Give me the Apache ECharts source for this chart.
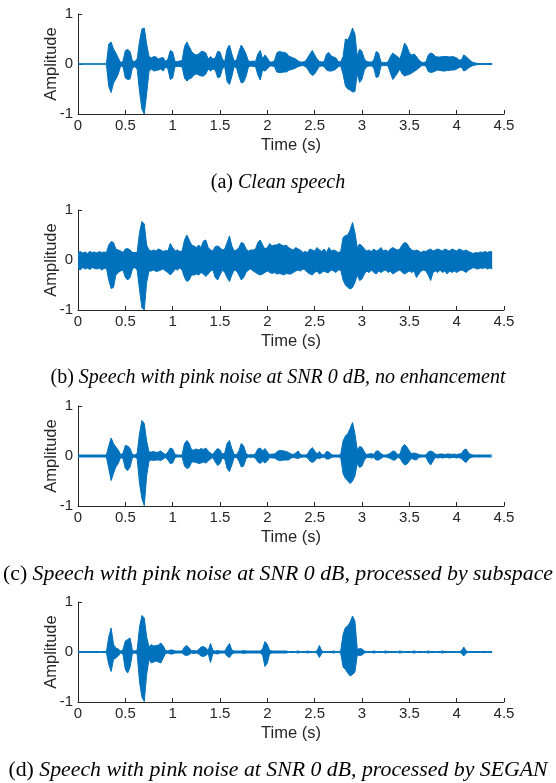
<!DOCTYPE html>
<html>
<head>
<meta charset="utf-8">
<script src="https://cdn.jsdelivr.net/npm/echarts@6/dist/echarts.min.js"></script>
<style>
  html, body { margin: 0; padding: 0; background: #fff; }
  #speechWaveforms { width: 556px; height: 783px; }
</style>
</head>
<body>
<div id="speechWaveforms"></div>
<script>
// envelope of each waveform, one sample every 0.025 s from 0 s
var STEP = 0.025

var captions = [
  ['(a)', 'Clean speech'],
  ['(b)', 'Speech with pink noise at SNR 0 dB, no enhancement'],
  ['(c)', 'Speech with pink noise at SNR 0 dB, processed by subspace'],
  ['(d)', 'Speech with pink noise at SNR 0 dB, processed by SEGAN']
]
var xTicks = [0, 4.5, 0.5]
var yTicks = [-1, 1, 1]

// (a) clean speech
var cleanUpper = [
  .005,.005,.005,.005,.005,.005,.005,.005,.005,.005,.005,.005,.005,.40,.44,.30,.22,.12,.03,.05,
  .27,.29,.25,.06,.05,.10,.45,.70,.72,.40,.15,.12,.15,.14,.10,.12,.13,.05,.10,.27,
  .24,.05,.05,.06,.07,.35,.44,.35,.25,.20,.18,.20,.25,.25,.22,.10,.15,.10,.12,.25,
  .24,.10,.05,.30,.38,.20,.06,.08,.25,.38,.30,.20,.06,.05,.06,.05,.20,.27,.10,.18,
  .12,.04,.04,.06,.22,.25,.24,.23,.22,.16,.14,.12,.10,.06,.04,.04,.05,.12,.20,.27,
  .18,.10,.05,.04,.05,.20,.23,.16,.14,.12,.05,.04,.15,.50,.48,.58,.72,.60,.15,.30,
  .25,.10,.05,.04,.04,.08,.25,.22,.04,.03,.03,.04,.15,.22,.18,.15,.10,.25,.42,.35,
  .22,.18,.20,.15,.08,.04,.03,.04,.18,.22,.20,.15,.14,.14,.15,.15,.15,.14,.15,.14,
  .12,.08,.08,.18,.15,.10,.06,.03,.02,.01,.01,.01,.01,.01,.01,.01
]
var cleanLower = [
  -.005,-.005,-.005,-.005,-.005,-.005,-.005,-.005,-.005,-.005,-.005,-.005,-.005,-.45,-.57,-.38,-.30,-.20,-.04,-.05,
  -.28,-.31,-.30,-.08,-.05,-.10,-.55,-.90,-1.0,-.60,-.15,-.10,-.14,-.13,-.12,-.10,-.14,-.06,-.10,-.31,
  -.28,-.05,-.05,-.05,-.06,-.28,-.34,-.30,-.28,-.22,-.20,-.22,-.24,-.24,-.20,-.10,-.14,-.10,-.12,-.27,
  -.26,-.10,-.05,-.35,-.41,-.25,-.05,-.08,-.25,-.38,-.36,-.25,-.06,-.04,-.05,-.05,-.22,-.32,-.12,-.14,
  -.10,-.04,-.04,-.05,-.16,-.17,-.17,-.16,-.16,-.13,-.11,-.10,-.08,-.05,-.04,-.03,-.05,-.10,-.18,-.23,
  -.20,-.12,-.05,-.04,-.05,-.12,-.14,-.14,-.13,-.10,-.05,-.04,-.20,-.44,-.50,-.52,-.56,-.55,-.20,-.37,
  -.30,-.12,-.05,-.04,-.04,-.08,-.27,-.25,-.04,-.03,-.03,-.04,-.18,-.31,-.25,-.18,-.10,-.20,-.24,-.22,
  -.21,-.18,-.15,-.12,-.08,-.04,-.03,-.04,-.15,-.17,-.16,-.14,-.12,-.13,-.14,-.14,-.13,-.13,-.12,-.12,
  -.10,-.07,-.06,-.14,-.12,-.08,-.05,-.03,-.02,-.01,-.01,-.01,-.01,-.01,-.01,-.01
]

// (b) noisy, no enhancement
var noisyUpper = [
  .15,.17,.14,.16,.13,.17,.15,.16,.14,.17,.15,.16,.15,.30,.37,.35,.22,.20,.18,.15,
  .22,.23,.20,.15,.15,.15,.55,.77,.72,.30,.20,.18,.20,.18,.22,.20,.17,.19,.18,.33,
  .25,.18,.20,.17,.18,.40,.50,.40,.30,.28,.25,.30,.25,.38,.40,.25,.20,.18,.27,.28,
  .25,.20,.22,.35,.48,.28,.18,.20,.25,.35,.33,.22,.18,.20,.20,.22,.35,.40,.30,.22,
  .25,.33,.28,.30,.30,.33,.30,.28,.30,.25,.22,.20,.25,.22,.20,.15,.17,.15,.22,.20,
  .18,.25,.20,.17,.22,.15,.25,.18,.20,.18,.15,.17,.45,.49,.50,.60,.75,.55,.25,.32,
  .28,.22,.18,.20,.17,.22,.18,.20,.25,.18,.20,.17,.22,.25,.22,.20,.22,.30,.35,.33,
  .25,.20,.18,.20,.18,.15,.18,.17,.20,.22,.18,.20,.22,.20,.18,.22,.20,.18,.22,.20,
  .18,.22,.20,.18,.20,.17,.15,.13,.15,.14,.16,.15,.17,.15,.17,.16
]
var noisyLower = [
  -.17,-.20,-.15,-.18,-.16,-.19,-.15,-.17,-.18,-.16,-.20,-.17,-.16,-.40,-.57,-.55,-.30,-.25,-.22,-.20,
  -.35,-.40,-.35,-.18,-.15,-.20,-.60,-.95,-1.0,-.45,-.22,-.22,-.20,-.23,-.22,-.20,-.18,-.22,-.25,-.30,
  -.25,-.18,-.20,-.16,-.20,-.35,-.43,-.40,-.30,-.30,-.28,-.30,-.25,-.28,-.33,-.28,-.22,-.20,-.35,-.40,
  -.30,-.20,-.25,-.35,-.43,-.30,-.20,-.22,-.30,-.40,-.35,-.25,-.20,-.18,-.22,-.25,-.28,-.30,-.28,-.25,
  -.22,-.25,-.27,-.25,-.28,-.27,-.28,-.30,-.27,-.28,-.28,-.25,-.22,-.20,-.22,-.18,-.20,-.25,-.28,-.30,
  -.25,-.22,-.28,-.25,-.22,-.25,-.25,-.20,-.22,-.25,-.20,-.20,-.40,-.50,-.55,-.58,-.55,-.45,-.30,-.41,
  -.38,-.28,-.22,-.25,-.20,-.25,-.28,-.22,-.25,-.22,-.20,-.25,-.22,-.28,-.25,-.22,-.20,-.25,-.28,-.25,
  -.22,-.25,-.22,-.35,-.28,-.22,-.20,-.22,-.30,-.41,-.25,-.22,-.25,-.20,-.25,-.22,-.28,-.22,-.25,-.22,
  -.25,-.22,-.20,-.22,-.25,-.20,-.18,-.15,-.17,-.18,-.16,-.17,-.15,-.18,-.16,-.18
]

// (c) processed by subspace
var subspaceUpper = [
  .02,.02,.02,.02,.02,.02,.02,.02,.02,.02,.02,.02,.02,.20,.36,.25,.18,.12,.03,.05,
  .21,.20,.15,.03,.02,.05,.45,.71,.65,.30,.08,.08,.09,.07,.08,.10,.06,.03,.08,.16,
  .14,.03,.02,.02,.02,.25,.31,.25,.12,.12,.14,.12,.15,.13,.16,.10,.06,.03,.10,.15,
  .12,.04,.06,.25,.31,.15,.03,.03,.10,.25,.20,.05,.02,.03,.02,.05,.14,.16,.10,.15,
  .08,.03,.04,.04,.08,.11,.11,.10,.09,.07,.04,.03,.06,.10,.03,.02,.02,.04,.12,.17,
  .10,.04,.09,.03,.02,.09,.08,.03,.02,.02,.02,.03,.30,.40,.45,.55,.67,.45,.12,.19,
  .17,.08,.03,.04,.05,.03,.10,.10,.05,.02,.02,.03,.06,.10,.09,.03,.04,.18,.23,.18,
  .10,.05,.06,.05,.03,.02,.02,.02,.08,.10,.08,.04,.03,.04,.04,.03,.04,.04,.03,.04,
  .03,.04,.05,.12,.14,.06,.03,.02,.02,.02,.02,.02,.02,.02,.02,.02
]
var subspaceLower = [
  -.02,-.02,-.02,-.02,-.02,-.02,-.02,-.02,-.02,-.02,-.02,-.02,-.02,-.25,-.49,-.35,-.22,-.15,-.03,-.05,
  -.25,-.29,-.22,-.03,-.02,-.05,-.55,-.85,-.99,-.40,-.10,-.08,-.09,-.08,-.08,-.09,-.06,-.03,-.08,-.15,
  -.14,-.03,-.02,-.02,-.02,-.20,-.25,-.23,-.12,-.12,-.13,-.15,-.14,-.12,-.14,-.10,-.06,-.03,-.12,-.19,
  -.15,-.04,-.06,-.25,-.31,-.18,-.03,-.03,-.10,-.22,-.20,-.05,-.02,-.03,-.02,-.05,-.12,-.15,-.10,-.14,
  -.10,-.03,-.04,-.04,-.07,-.09,-.09,-.08,-.08,-.08,-.04,-.03,-.04,-.05,-.03,-.02,-.02,-.04,-.10,-.13,
  -.10,-.04,-.05,-.03,-.02,-.06,-.06,-.03,-.02,-.02,-.02,-.03,-.35,-.45,-.50,-.55,-.50,-.40,-.15,-.23,
  -.20,-.08,-.03,-.03,-.04,-.03,-.08,-.08,-.05,-.02,-.02,-.03,-.05,-.08,-.08,-.03,-.04,-.12,-.18,-.16,
  -.10,-.05,-.07,-.08,-.03,-.02,-.02,-.02,-.12,-.18,-.10,-.03,-.04,-.03,-.04,-.03,-.03,-.04,-.03,-.03,
  -.04,-.03,-.05,-.10,-.13,-.06,-.03,-.02,-.02,-.02,-.02,-.02,-.02,-.02,-.02,-.02
]

// (d) processed by SEGAN
var seganUpper = [
  .01,.01,.01,.01,.01,.01,.01,.01,.01,.01,.01,.01,.01,.30,.48,.15,.08,.06,.02,.04,
  .22,.25,.28,.03,.02,.04,.50,.73,.68,.30,.10,.15,.12,.13,.14,.18,.12,.03,.02,.04,
  .04,.02,.02,.02,.02,.10,.13,.08,.02,.03,.02,.05,.10,.11,.08,.03,.17,.03,.02,.03,
  .02,.02,.02,.10,.17,.04,.02,.02,.02,.02,.03,.02,.02,.02,.02,.02,.02,.02,.06,.21,
  .15,.03,.02,.02,.02,.02,.02,.02,.02,.01,.01,.01,.01,.02,.01,.01,.01,.02,.01,.01,
  .01,.02,.13,.02,.01,.01,.01,.01,.02,.01,.01,.02,.35,.49,.52,.60,.72,.62,.05,.07,
  .06,.02,.01,.01,.01,.02,.01,.01,.01,.01,.02,.01,.01,.01,.01,.01,.02,.01,.01,.01,
  .01,.01,.02,.01,.01,.01,.01,.01,.02,.01,.01,.01,.01,.01,.02,.01,.01,.01,.01,.01,
  .01,.01,.02,.10,.02,.01,.01,.01,.01,.01,.01,.01,.01,.01,.01,.01
]
var seganLower = [
  -.01,-.01,-.01,-.01,-.01,-.01,-.01,-.01,-.01,-.01,-.01,-.01,-.01,-.25,-.39,-.15,-.12,-.08,-.02,-.04,
  -.35,-.42,-.30,-.03,-.02,-.04,-.60,-.90,-.99,-.45,-.15,-.22,-.20,-.18,-.20,-.22,-.12,-.03,-.02,-.04,
  -.04,-.02,-.02,-.02,-.02,-.06,-.07,-.05,-.02,-.03,-.02,-.04,-.08,-.09,-.07,-.03,-.21,-.03,-.03,-.04,
  -.02,-.02,-.02,-.08,-.11,-.04,-.02,-.02,-.02,-.02,-.03,-.02,-.02,-.02,-.02,-.02,-.02,-.02,-.06,-.29,
  -.22,-.03,-.02,-.02,-.02,-.02,-.02,-.02,-.02,-.01,-.01,-.01,-.01,-.02,-.01,-.01,-.01,-.02,-.01,-.01,
  -.01,-.02,-.11,-.02,-.01,-.01,-.01,-.01,-.02,-.01,-.01,-.02,-.30,-.35,-.42,-.48,-.45,-.40,-.06,-.07,
  -.06,-.02,-.01,-.01,-.01,-.02,-.01,-.01,-.01,-.01,-.02,-.01,-.01,-.01,-.01,-.01,-.02,-.01,-.01,-.01,
  -.01,-.01,-.02,-.01,-.01,-.01,-.01,-.01,-.02,-.01,-.01,-.01,-.01,-.01,-.02,-.01,-.01,-.01,-.01,-.01,
  -.01,-.01,-.02,-.08,-.02,-.01,-.01,-.01,-.01,-.01,-.01,-.01,-.01,-.01,-.01,-.01
]

var envelopes = [
  [cleanUpper, cleanLower],
  [noisyUpper, noisyLower],
  [subspaceUpper, subspaceLower],
  [seganUpper, seganLower]
]

var gridTops = [14, 210, 406, 602]
var captionTops = [173, 368, 563, 759]
var captionSizes = [20, 20, 21.8, 21.8]
var BLUE = '#0072BD'
var AXIS = '#262626'
var SANS = 'Liberation Sans'
var SERIF = 'Liberation Serif'

function withTime(values) {
  return values.map(function (v, i) { return [+(i * STEP).toFixed(3), v] })
}

var chart = echarts.init(document.getElementById('speechWaveforms'), null, {renderer: 'canvas'})

var option = {
  animation: false,
  backgroundColor: '#fff',
  title: [],
  grid: [],
  xAxis: [],
  yAxis: [],
  series: []
}

for (var k = 0; k < 4; k++) {
  option.title.push({
    text: captions[k][0] + ' {i|' + captions[k][1] + '}',
    left: 'center',
    top: captionTops[k],
    padding: 0,
    textStyle: {
      fontFamily: SERIF,
      fontSize: captionSizes[k],
      fontWeight: 'normal',
      color: '#000',
      rich: {
        i: {fontFamily: SERIF, fontSize: captionSizes[k], fontStyle: 'italic', color: '#000'}
      }
    }
  })
  option.grid.push({left: 78, width: 426, top: gridTops[k], height: 100})
  option.xAxis.push({
    type: 'value',
    gridIndex: k,
    min: xTicks[0],
    max: xTicks[1],
    interval: xTicks[2],
    name: 'Time (s)',
    nameLocation: 'middle',
    nameGap: 23,
    nameTextStyle: {fontFamily: SANS, fontSize: 16.5, color: AXIS},
    axisLine: {onZero: false, lineStyle: {color: AXIS, width: 1}},
    axisTick: {inside: true, length: 4, lineStyle: {color: AXIS}},
    axisLabel: {margin: 4, fontFamily: SANS, fontSize: 15, color: AXIS},
    splitLine: {show: false}
  })
  option.yAxis.push({
    type: 'value',
    gridIndex: k,
    min: yTicks[0],
    max: yTicks[1],
    interval: yTicks[2],
    name: 'Amplitude',
    nameLocation: 'middle',
    nameGap: 18,
    nameMoveOverlap: false,
    nameTextStyle: {fontFamily: SANS, fontSize: 16.5, color: AXIS},
    axisLine: {show: true, onZero: false, lineStyle: {color: AXIS, width: 1}},
    axisTick: {show: true, inside: true, length: 4, lineStyle: {color: AXIS}},
    axisLabel: {margin: 5, fontFamily: SANS, fontSize: 15, color: AXIS},
    splitLine: {show: false}
  })
  for (var s = 0; s < 2; s++) {
    option.series.push({
      type: 'line',
      xAxisIndex: k,
      yAxisIndex: k,
      data: withTime(envelopes[k][s]),
      showSymbol: false,
      symbol: 'none',
      sampling: null,
      lineStyle: {color: BLUE, width: 1},
      areaStyle: {color: BLUE, opacity: 1, origin: 0},
      itemStyle: {color: BLUE},
      z: 2
    })
  }
}

chart.setOption(option)
</script>
</body>
</html>
